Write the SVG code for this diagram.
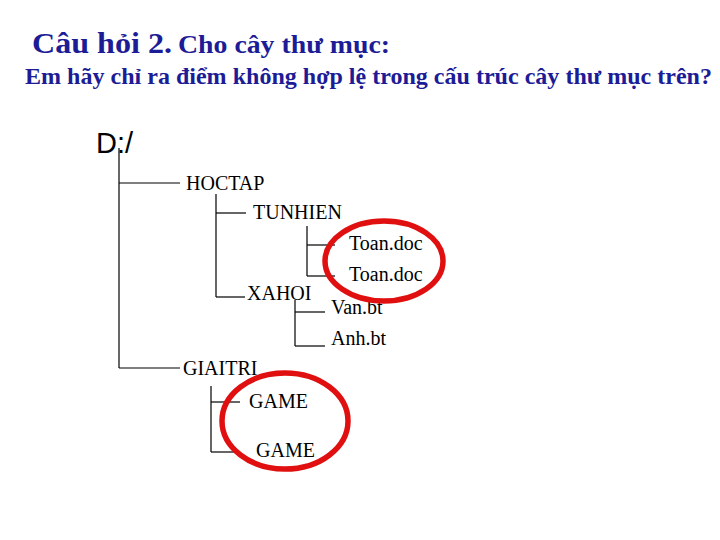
<svg xmlns="http://www.w3.org/2000/svg" width="720" height="540" viewBox="0 0 720 540">
<style>
.t{font-family:"Liberation Serif","Times New Roman",serif;fill:#000;font-size:20px}
.h{font-family:"Liberation Serif","Times New Roman",serif;fill:#1c1c96;font-weight:bold}
.c line{stroke:#000;stroke-width:1.2}
.r{fill:none;stroke:#e01010;stroke-width:5.5}
</style>
<rect width="720" height="540" fill="#fff"/>
<text class="h" x="32" y="53"><tspan font-size="29" textLength="140" lengthAdjust="spacingAndGlyphs">Câu hỏi 2.</tspan><tspan x="178" font-size="25" textLength="212" lengthAdjust="spacingAndGlyphs">Cho cây thư mục:</tspan></text>
<text class="h" x="25" y="84" font-size="23" textLength="687" lengthAdjust="spacingAndGlyphs">Em hãy chỉ ra điểm không hợp lệ trong cấu trúc cây thư mục trên?</text>
<g class="c" id="connectors">
<line x1="119" y1="148" x2="119" y2="368"/>
<line x1="119" y1="183" x2="180" y2="183"/>
<line x1="119" y1="368" x2="180" y2="368"/>
<line x1="216" y1="194" x2="216" y2="297"/>
<line x1="216" y1="213" x2="246" y2="213"/>
<line x1="216" y1="297" x2="245" y2="297"/>
<line x1="307" y1="226" x2="307" y2="276"/>
<line x1="307" y1="245" x2="335" y2="245"/>
<line x1="307" y1="276" x2="335" y2="276"/>
<line x1="295" y1="300" x2="295" y2="346"/>
<line x1="295" y1="312" x2="325" y2="312"/>
<line x1="295" y1="346" x2="325" y2="346"/>
<line x1="211" y1="386" x2="211" y2="452"/>
<line x1="211" y1="402" x2="240" y2="402"/>
<line x1="211" y1="452" x2="238" y2="452"/>
</g>
<g id="root"><text x="96" y="153" font-family="Liberation Sans,Arial,sans-serif" font-size="29" fill="#000">D:/</text></g>
<g id="hoctap"><text class="t" x="186" y="190">HOCTAP</text></g>
<g id="tunhien"><text class="t" x="253" y="219">TUNHIEN</text></g>
<g id="toan1"><text class="t" x="349" y="250">Toan.doc</text></g>
<g id="toan2"><text class="t" x="349" y="281">Toan.doc</text></g>
<g id="xahoi"><text class="t" x="247" y="300">XAHOI</text></g>
<g id="van"><text class="t" x="331" y="314">Van.bt</text></g>
<g id="anh"><text class="t" x="331" y="345">Anh.bt</text></g>
<g id="giaitri"><text class="t" x="183" y="375">GIAITRI</text></g>
<g id="game1"><text class="t" x="249" y="408">GAME</text></g>
<g id="game2"><text class="t" x="256" y="457">GAME</text></g>
<g id="marks">
<ellipse class="r" cx="384" cy="261" rx="59" ry="40"/>
<ellipse class="r" cx="285" cy="421" rx="63" ry="48"/>
</g>
</svg>
